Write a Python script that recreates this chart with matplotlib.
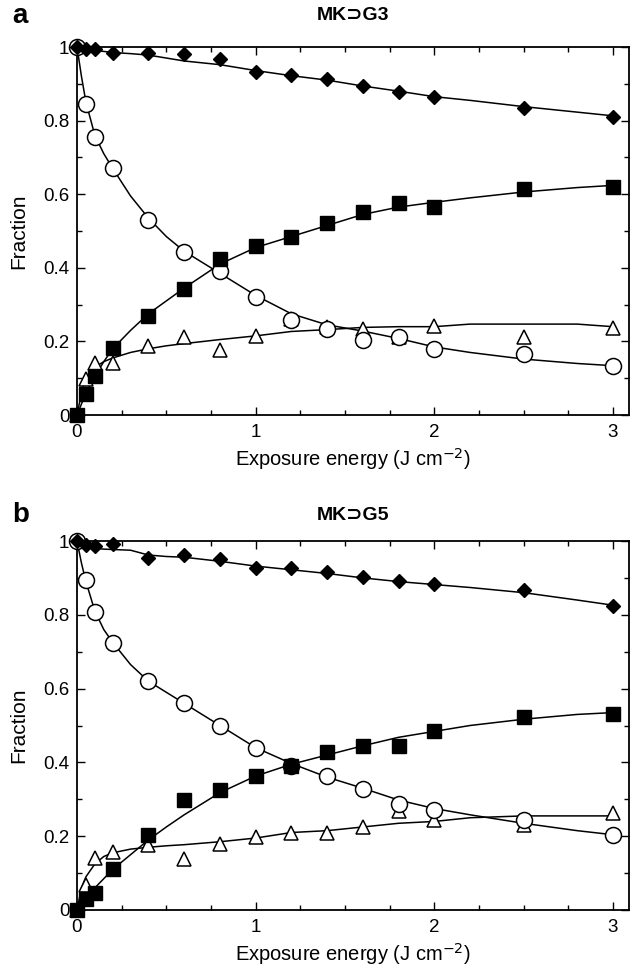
#!/usr/bin/env python3
import matplotlib
matplotlib.use("Agg")
import matplotlib.pyplot as plt
from matplotlib.ticker import MultipleLocator, FuncFormatter

plt.rcParams["font.family"] = ["Liberation Sans", "DejaVu Sans"]

# measured exposure energies (J cm-2)
energy = [0, 0.05, 0.1, 0.2, 0.4, 0.6, 0.8, 1.0, 1.2, 1.4, 1.6, 1.8, 2.0, 2.5, 3.0]

# panel a: MK⊃G3
a_diamond = [1.0, 0.995, 0.995, 0.985, 0.985, 0.98, 0.968, 0.932, 0.923, 0.912, 0.895, 0.878, 0.864, 0.835, 0.811]
a_circle = [1.0, 0.846, 0.756, 0.672, 0.53, 0.444, 0.39, 0.32, 0.259, 0.233, 0.205, 0.212, 0.179, 0.167, 0.134]
a_square = [0.0, 0.058, 0.106, 0.183, 0.268, 0.343, 0.424, 0.46, 0.483, 0.521, 0.551, 0.575, 0.566, 0.613, 0.62]
a_triangle = [0.0, 0.097, 0.14, 0.142, 0.188, 0.212, 0.176, 0.214, 0.262, 0.239, 0.235, 0.212, 0.242, 0.212, 0.237]

# panel b: MK⊃G5
b_diamond = [1.0, 0.989, 0.987, 0.993, 0.954, 0.963, 0.952, 0.927, 0.927, 0.916, 0.903, 0.891, 0.884, 0.867, 0.823]
b_circle = [1.0, 0.894, 0.807, 0.724, 0.62, 0.562, 0.5, 0.439, 0.39, 0.363, 0.329, 0.288, 0.272, 0.243, 0.204]
b_square = [0.0, 0.03, 0.045, 0.111, 0.204, 0.298, 0.324, 0.363, 0.391, 0.428, 0.445, 0.445, 0.485, 0.524, 0.531]
b_triangle = [0.0, 0.068, 0.14, 0.157, 0.177, 0.139, 0.179, 0.197, 0.208, 0.208, 0.224, 0.269, 0.243, 0.231, 0.264]

# fitted curves
fit_x = [0, 0.025, 0.05, 0.1, 0.15, 0.2, 0.3, 0.4, 0.5, 0.6, 0.8, 1.0, 1.2, 1.4, 1.6, 1.8, 2.0, 2.2, 2.5, 2.8, 3.0]

a_fit_diamond = [1.0, 0.996, 0.993, 0.99, 0.988, 0.985, 0.982, 0.978, 0.97, 0.962, 0.952, 0.936, 0.922, 0.91, 0.894, 0.88, 0.865, 0.855, 0.838, 0.823, 0.813]
a_fit_circle = [1.0, 0.92, 0.85, 0.76, 0.71, 0.67, 0.595, 0.535, 0.485, 0.445, 0.385, 0.325, 0.275, 0.245, 0.228, 0.208, 0.185, 0.17, 0.152, 0.14, 0.134]
a_fit_square = [0.0, 0.03, 0.06, 0.105, 0.145, 0.18, 0.23, 0.275, 0.31, 0.345, 0.41, 0.455, 0.485, 0.515, 0.545, 0.565, 0.578, 0.59, 0.606, 0.618, 0.624]
a_fit_triangle = [0.0, 0.06, 0.1, 0.13, 0.145, 0.155, 0.17, 0.18, 0.188, 0.194, 0.205, 0.215, 0.227, 0.232, 0.238, 0.24, 0.24, 0.247, 0.247, 0.247, 0.24]

b_fit_diamond = [1.0, 0.99, 0.985, 0.98, 0.978, 0.977, 0.975, 0.962, 0.958, 0.956, 0.945, 0.932, 0.922, 0.912, 0.9, 0.89, 0.882, 0.874, 0.86, 0.84, 0.826]
b_fit_circle = [1.0, 0.94, 0.89, 0.81, 0.76, 0.725, 0.665, 0.62, 0.59, 0.56, 0.5, 0.44, 0.397, 0.36, 0.33, 0.298, 0.275, 0.258, 0.235, 0.215, 0.204]
b_fit_square = [0.0, 0.015, 0.03, 0.06, 0.085, 0.11, 0.15, 0.19, 0.225, 0.258, 0.318, 0.363, 0.395, 0.42, 0.445, 0.468, 0.484, 0.5, 0.517, 0.53, 0.535]
b_fit_triangle = [0.0, 0.06, 0.09, 0.125, 0.145, 0.155, 0.165, 0.17, 0.174, 0.177, 0.185, 0.195, 0.21, 0.215, 0.225, 0.235, 0.24, 0.25, 0.255, 0.255, 0.255]

panels = [
    ("a", "MK\u2283G3", (a_diamond, a_circle, a_square, a_triangle),
     (a_fit_diamond, a_fit_circle, a_fit_square, a_fit_triangle)),
    ("b", "MK\u2283G5", (b_diamond, b_circle, b_square, b_triangle),
     (b_fit_diamond, b_fit_circle, b_fit_square, b_fit_triangle)),
]

W, H = 631, 967
fig = plt.figure(figsize=(W / 100, H / 100), dpi=100)

# axes boxes in pixels: left, top, right, bottom, title centre y
boxes = [(77, 47, 629, 415, 16), (77, 541, 629, 910, 515)]

for (letter, title, points, fits), (l, t, r, b, ty) in zip(panels, boxes):
    ax = fig.add_axes([l / W, 1 - b / H, (r - l) / W, (b - t) / H])

    for fy in fits:
        ax.plot(fit_x, fy, color="black", linewidth=1.1, zorder=2)

    diamond, circle, square, triangle = points
    ax.plot(energy, triangle, linestyle="none", marker="^", markersize=10.5,
            markerfacecolor="white", markeredgecolor="black", markeredgewidth=1.1, zorder=3)
    ax.plot(energy, circle, linestyle="none", marker="o", markersize=11.5,
            markerfacecolor="white", markeredgecolor="black", markeredgewidth=1.1, zorder=4)
    ax.plot(energy, square, linestyle="none", marker="s", markersize=10.5,
            color="black", zorder=5)
    ax.plot(energy, diamond, linestyle="none", marker="D", markersize=7.5,
            color="black", zorder=6)
    for line in ax.lines:
        line.set_clip_on(False)

    ax.set_xlim(0, 3.09)
    ax.set_ylim(0, 1.0)
    ax.xaxis.set_major_locator(MultipleLocator(1))
    ax.xaxis.set_minor_locator(MultipleLocator(0.25))
    ax.yaxis.set_major_locator(MultipleLocator(0.2))
    ax.yaxis.set_minor_locator(MultipleLocator(0.1))
    ax.yaxis.set_major_formatter(FuncFormatter(lambda v, p: "%g" % round(v, 1)))
    ax.tick_params(which="both", direction="in", top=True, right=True,
                   labelsize=13.5, width=1.0)
    ax.tick_params(which="major", length=6)
    ax.tick_params(which="minor", length=3.5)
    ax.tick_params(axis="x", which="major", pad=6.5)
    ax.tick_params(axis="y", which="major", pad=5.5)
    for s in ax.spines.values():
        s.set_linewidth(1.3)

    ax.set_xlabel("Exposure energy (J cm$^{-2}$)", fontsize=14.5, va="center")
    ax.xaxis.set_label_coords(0.5, -44 / (b - t))
    ax.set_ylabel("Fraction", fontsize=15)
    ax.yaxis.set_label_coords(-49 / (r - l), 0.5)
    fig.text((l + r) / 2 / W, 1 - ty / H, title, fontsize=14, fontweight="bold",
             ha="center", va="center")
    fig.text(12 / W, 1 - ty / H, letter, fontsize=20, fontweight="bold",
             ha="left", va="center")

fig.savefig("out.png", dpi=100)
